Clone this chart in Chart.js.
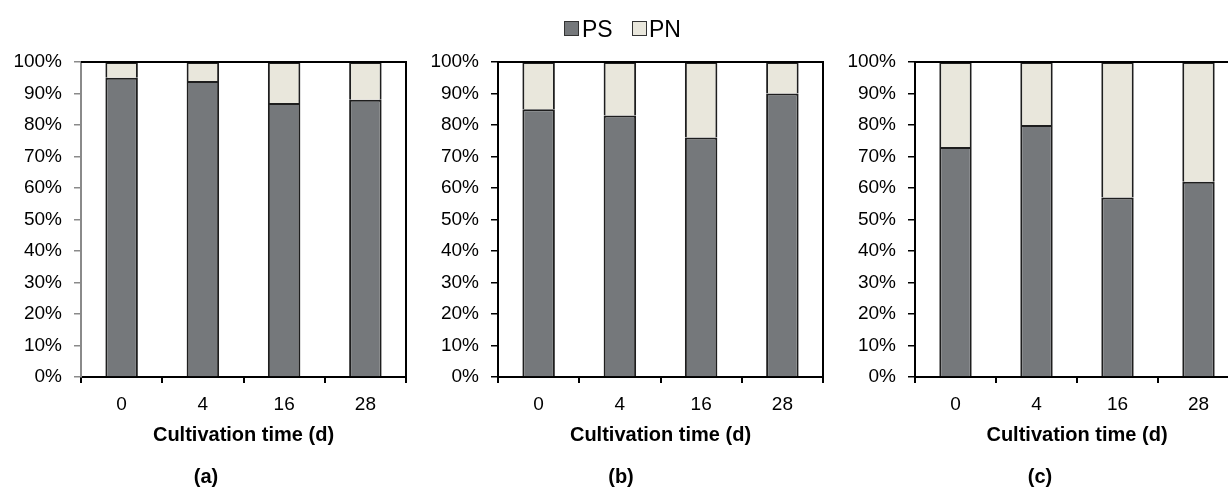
<!DOCTYPE html>
<html><head><meta charset="utf-8">
<script src="https://cdn.jsdelivr.net/npm/chart.js@4.4.1/dist/chart.umd.min.js"></script>
<style>
html,body{margin:0;padding:0;background:#fff;overflow:hidden;width:1228px;height:489px;position:relative;}
canvas{position:absolute;top:0;}
.lg{position:absolute;font-family:'Liberation Sans',Arial,sans-serif;font-size:23px;line-height:23px;color:#000;white-space:nowrap;}
.sq{position:absolute;width:13px;height:13px;border:1px solid #333;}
</style></head><body>
<canvas id="ca" width="402" height="489" style="left:6px"></canvas>
<canvas id="cb" width="406" height="489" style="left:419px"></canvas>
<canvas id="cc" width="400" height="489" style="left:841px"></canvas>
<div class="sq" style="left:564px;top:21px;background:#75787b"></div>
<div class="lg" style="left:582px;top:18px">PS</div>
<div class="sq" style="left:632px;top:21px;background:#e9e7dc"></div>
<div class="lg" style="left:649px;top:18px">PN</div>
<script>
const categories = ['0', '4', '16', '28'];
const seriesNames = ['PS', 'PN'];
const psA = [95, 94, 87, 88];
const pnA = [5, 6, 13, 12];
const psB = [85, 83, 76, 90];
const pnB = [15, 17, 24, 10];
const psC = [73, 80, 57, 62];
const pnC = [27, 20, 43, 38];
const panelLabels = ['(a)', '(b)', '(c)'];
const xTitle = 'Cultivation time (d)';

const FONT = "'Liberation Sans', Arial, sans-serif";
const PS_COLOR = '#75787b';
const PN_COLOR = '#e9e7dc';

const frame = {
  id: 'frame',
  afterDatasetsDraw(c) {
    const {ctx, chartArea: a} = c;
    ctx.save();
    ctx.strokeStyle = '#000';
    ctx.lineWidth = 2;
    ctx.beginPath();
    ctx.moveTo(a.left, a.top);
    ctx.lineTo(a.right, a.top);
    ctx.lineTo(a.right, a.bottom);
    ctx.stroke();
    ctx.restore();
  }
};

function makeChart(id, ps, pn, label, yWidth, axisColor) {
  return new Chart(document.getElementById(id), {
    type: 'bar',
    data: {
      labels: categories,
      datasets: [
        {label: seriesNames[0], data: ps, backgroundColor: PS_COLOR, borderColor: '#1e1e1e', borderWidth: 2,
         barPercentage: 0.4, categoryPercentage: 1},
        {label: seriesNames[1], data: pn, backgroundColor: PN_COLOR, borderColor: '#1e1e1e', borderWidth: 2,
         barPercentage: 0.4, categoryPercentage: 1}
      ]
    },
    options: {
      responsive: false, animation: false, devicePixelRatio: 1,
      layout: {padding: {left: 0, right: 2, top: 62, bottom: 0}},
      plugins: {
        legend: {display: false},
        tooltip: {enabled: false},
        title: {display: true, text: label, position: 'bottom', color: '#000',
                font: {family: FONT, size: 20, weight: 'bold'}, padding: {top: 18, bottom: 0}}
      },
      scales: {
        x: {
          stacked: true, offset: true,
          grid: {offset: true, drawOnChartArea: false, drawTicks: true, tickLength: 6, color: '#000', lineWidth: 2},
          border: {display: true, color: '#000', width: 2},
          ticks: {font: {family: FONT, size: 19}, color: '#000', padding: 10, maxRotation: 0},
          title: {display: true, text: xTitle, color: '#000', font: {family: FONT, size: 20, weight: 'bold'}, padding: 0},
          afterFit: (s) => { s.height = 70; }
        },
        y: {
          stacked: true, min: 0, max: 100,
          ticks: {stepSize: 10, callback: (v) => v + '%', font: {family: FONT, size: 19}, color: '#000', padding: 12},
          grid: {drawOnChartArea: false, drawTicks: true, tickLength: 7, color: axisColor, lineWidth: 1.5},
          border: {display: true, color: axisColor, width: 2},
          afterFit: (s) => { s.width = yWidth; }
        }
      }
    },
    plugins: [frame]
  });
}

makeChart('ca', psA, pnA, panelLabels[0], 75, '#8a8a8a');
makeChart('cb', psB, pnB, panelLabels[1], 79, '#000');
makeChart('cc', psC, pnC, panelLabels[2], 74, '#000');
</script>
</body></html>
